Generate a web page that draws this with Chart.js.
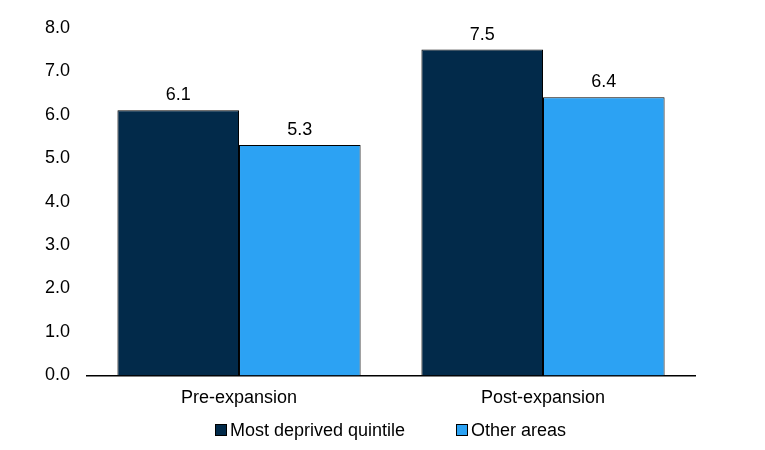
<!DOCTYPE html>
<html>
<head>
<meta charset="utf-8">
<script src="https://cdn.jsdelivr.net/npm/chart.js@4/dist/chart.umd.min.js"></script>
<style>
  html, body { margin: 0; padding: 0; background: #fff; }
  #wrap { width: 765px; height: 450px; position: relative; }
  #legend {
    position: absolute; left: 86px; width: 609px; top: 420px;
    display: flex; justify-content: center; align-items: center;
    font: 18px "Liberation Sans", Arial, sans-serif; color: #000; line-height: 20px;
  }
  .item { display: flex; align-items: center; }
  .item + .item { margin-left: 51px; }
  .swatch { width: 10px; height: 10px; border: 1px solid #000; margin-right: 3px; }
</style>
</head>
<body>
<div id="wrap">
  <canvas id="chart"></canvas>
  <div id="legend"></div>
</div>
<script>
// Dados do gráfico
const categories = ['Pre-expansion', 'Post-expansion'];
const seriesNames = ['Most deprived quintile', 'Other areas'];
const mostDeprived = [6.1, 7.5];
const otherAreas = [5.3, 6.4];
const yTicks = [0, 1, 2, 3, 4, 5, 6, 7, 8];

const seriesColors = ['#022a4a', '#2ca2f3'];
const fontFamily = '"Liberation Sans", Arial, sans-serif';

// Rótulos de valor acima das barras
const valueLabels = {
    id: 'valueLabels',
    afterDatasetsDraw(chart) {
        const ctx = chart.ctx;
        ctx.save();
        ctx.font = '18px ' + fontFamily;
        ctx.fillStyle = '#000';
        ctx.textAlign = 'center';
        ctx.textBaseline = 'alphabetic';
        chart.data.datasets.forEach((ds, i) => {
            chart.getDatasetMeta(i).data.forEach((bar, j) => {
                ctx.fillText(ds.data[j].toFixed(1), bar.x, bar.y - 10);
            });
        });
        ctx.restore();
    }
};

const chart = new Chart(document.getElementById('chart'), {
    type: 'bar',
    data: {
        labels: categories,
        datasets: [
            {
                label: seriesNames[0],
                data: mostDeprived,
                backgroundColor: seriesColors[0],
                borderColor: '#000',
                borderWidth: 1
            },
            {
                label: seriesNames[1],
                data: otherAreas,
                backgroundColor: seriesColors[1],
                borderColor: '#000',
                borderWidth: 1
            }
        ]
    },
    options: {
        responsive: true,
        maintainAspectRatio: false,
        animation: false,
        layout: {
            padding: { left: 28, right: 70, top: 11, bottom: 29 }
        },
        datasets: {
            bar: { categoryPercentage: 0.8, barPercentage: 1.0 }
        },
        plugins: {
            legend: { display: false },
            tooltip: { enabled: false }
        },
        scales: {
            x: {
                grid: { display: false, drawTicks: false },
                border: { display: true, color: '#000', width: 1.5 },
                ticks: {
                    color: '#000',
                    padding: 12,
                    font: { family: fontFamily, size: 18 }
                }
            },
            y: {
                min: 0,
                max: 8,
                grid: { display: false, drawTicks: false },
                border: { display: false },
                afterBuildTicks(axis) {
                    axis.ticks = yTicks.map(v => ({ value: v }));
                },
                ticks: {
                    color: '#000',
                    padding: 17,
                    font: { family: fontFamily, size: 18 },
                    callback: v => v.toFixed(1)
                }
            }
        }
    },
    plugins: [valueLabels]
});

// Legenda em HTML
const legendEl = document.getElementById('legend');
legendEl.innerHTML = chart.data.datasets.map(ds => `
    <div class="item">
        <span class="swatch" style="background:${ds.backgroundColor}"></span>
        <span>${ds.label}</span>
    </div>
`).join('');
</script>
</body>
</html>
